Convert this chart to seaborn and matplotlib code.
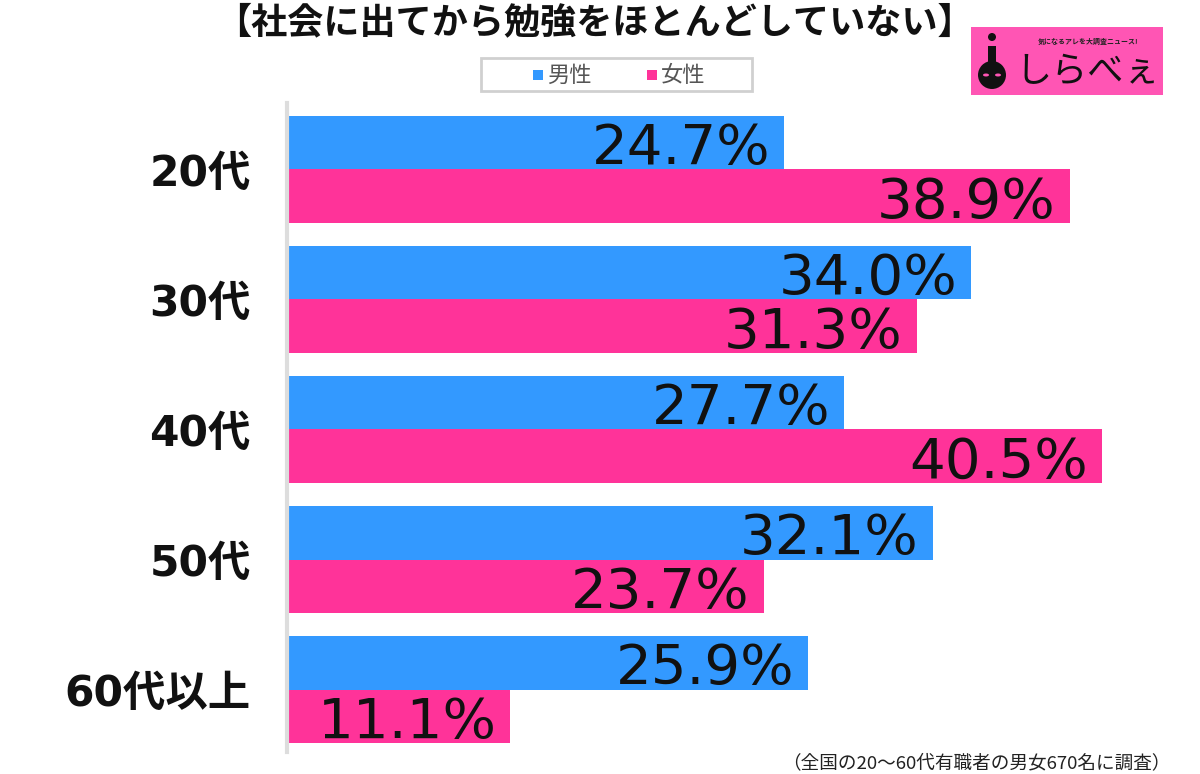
import matplotlib
matplotlib.use("Agg")
import matplotlib.pyplot as plt
import matplotlib.patches as mpatches
import seaborn as sns
import pandas as pd

categories = ['20代', '30代', '40代', '50代', '60代以上']
male = [24.7, 34.0, 27.7, 32.1, 25.9]
female = [38.9, 31.3, 40.5, 23.7, 11.1]
series_names = ['男性', '女性']
title = '【社会に出てから勉強をほとんどしていない】'
footnote = '（全国の20〜60代有職者の男女670名に調査）'

BLUE = '#3399FF'
PINK = '#FF3399'

sns.set_theme(style='white')
plt.rcParams['font.family'] = ['Noto Sans CJK JP', 'DejaVu Sans']

rows = []
for c, m, f in zip(categories, male, female):
    rows.append({'age': c, 'gender': series_names[0], 'value': m})
    rows.append({'age': c, 'gender': series_names[1], 'value': f})
df = pd.DataFrame(rows)

W, H = 1200, 774
fig = plt.figure(figsize=(W / 100, H / 100), dpi=100)
ax_left, ax_right, ax_top, ax_bottom = 287, 1187, 103, 752
ax = fig.add_axes([ax_left / W, 1 - ax_bottom / H, (ax_right - ax_left) / W, (ax_bottom - ax_top) / H])

sns.barplot(data=df, x='value', y='age', hue='gender', orient='h',
            palette=[BLUE, PINK], saturation=1, width=0.82, legend=False, ax=ax,
            order=categories, hue_order=series_names, linewidth=0)

ax.set_xlim(0, (ax_right - ax_left) / 20.12)
ax.set_ylim(4.48, -0.51)
ax.set_xlabel('')
ax.set_ylabel('')
ax.set_xticks([])
for s in ['top', 'right', 'bottom']:
    ax.spines[s].set_visible(False)
ax.spines['left'].set_color('#DDDDDD')
ax.spines['left'].set_linewidth(3)
ax.tick_params(axis='y', length=0, pad=26)
for lbl in ax.get_yticklabels():
    lbl.set_fontsize(30.5)
    lbl.set_family(['DejaVu Sans', 'Noto Sans CJK JP'])
    lbl.set_fontweight('bold')
    lbl.set_color('#111111')

for cont, vals in zip(ax.containers, [male, female]):
    for bar, v in zip(cont, vals):
        y = bar.get_y() + bar.get_height() / 2
        ax.annotate(f'{v:.1f}%', xy=(bar.get_width(), y), xytext=(-10, -15.5),
                    textcoords='offset points', ha='right', va='baseline',
                    fontsize=40.5, color='#111111', family=['DejaVu Sans'])

# Title
fig.text(594 / W, 1 - 23 / H, title, ha='center', va='center', fontsize=26,
         fontweight='bold', color='#111111')

# Legend box
lx0, lx1, ly0, ly1 = 481, 752, 58, 91
fig.patches.append(mpatches.Rectangle((lx0 / W, 1 - ly1 / H), (lx1 - lx0) / W, (ly1 - ly0) / H,
                                      transform=fig.transFigure, facecolor='white',
                                      edgecolor='#D0D0D0', linewidth=2))
for sx, name, col, tx in [(533, series_names[0], BLUE, 547), (647, series_names[1], PINK, 661)]:
    fig.patches.append(mpatches.Rectangle((sx / W, 1 - 80 / H), 10 / W, 10 / H,
                                          transform=fig.transFigure, facecolor=col, edgecolor='none'))
    fig.text(tx / W, 1 - 75 / H, name, ha='left', va='center', fontsize=16, color='#555555')

# Footnote
fig.text(1171 / W, 1 - 763 / H, footnote, ha='right', va='center', fontsize=13.4, color='#222222')

# Logo
fig.patches.append(mpatches.Rectangle((971 / W, 1 - 95 / H), 192 / W, 68 / H,
                                      transform=fig.transFigure, facecolor='#FF55B4',
                                      edgecolor='none'))
fig.text(1088 / W, 1 - 41 / H, '気になるアレを大調査ニュース!', ha='center', va='center',
         fontsize=5, color='#222222', fontweight='bold')
fig.text(1088 / W, 1 - 72 / H, 'しらべぇ', ha='center', va='center',
         fontsize=26, color='#111111')
fig.patches.append(mpatches.Ellipse((992 / W, 1 - 37 / H), 8 / W, 8 / H,
                                    transform=fig.transFigure, facecolor='#111111', edgecolor='none'))
fig.patches.append(mpatches.Ellipse((992 / W, 1 - 75 / H), 28 / W, 28 / H,
                                    transform=fig.transFigure, facecolor='#111111', edgecolor='none'))
fig.patches.append(mpatches.Rectangle((988 / W, 1 - 68 / H), 8 / W, 22 / H,
                                      transform=fig.transFigure, facecolor='#111111', edgecolor='none'))
for ex in (986, 998):
    fig.patches.append(mpatches.Ellipse((ex / W, 1 - 75 / H), 6 / W, 3 / H,
                                        transform=fig.transFigure, facecolor='#FF55B4', edgecolor='none'))

fig.savefig('out.png', dpi=100)
